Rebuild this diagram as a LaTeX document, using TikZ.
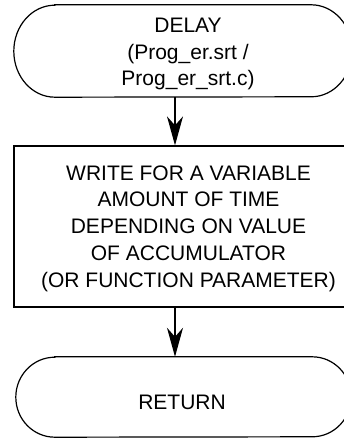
\documentclass[tikz,border=0pt]{standalone}
\usepackage{fontspec}
\setmainfont{Liberation Sans}
\usetikzlibrary{arrows.meta}
\begin{document}
\begin{tikzpicture}[x=1pt,y=1pt,
  txt/.style={align=center, inner sep=0pt, font=\fontsize{21}{26.8}\selectfont},
  shapebox/.style={draw=none, inner sep=0pt},
  outline/.style={line width=1.2pt, draw=black},
  arr/.style={line width=1.2pt, -{Stealth[length=29pt, width=16pt, inset=9pt]}}]
\useasboundingbox (0,0) rectangle (344,438);
\clip (0,0) rectangle (344,438);
% top terminal
\node[shapebox, minimum width=338pt, minimum height=92pt] (delay) at (183,387) {};
\draw[outline] ([xshift=41pt]delay.north west) -- ([xshift=-41pt]delay.north east)
  arc[start angle=90, end angle=-90, x radius=41pt, y radius=46pt]
  -- ([xshift=41pt]delay.south west)
  arc[start angle=270, end angle=90, x radius=41pt, y radius=46pt] -- cycle;
\node[txt] (delaytxt) at (188,384) {DELAY\\(Prog\_er.srt /\\Prog\_er\_srt.c)};
% process box
\node[draw, line width=1.2pt, minimum width=349pt, minimum height=161pt, inner sep=0pt] (write) at (188.5,211.5) {};
\node[txt] (writetxt) at (188.5,209.5) {WRITE FOR A VARIABLE\\AMOUNT OF TIME\\DEPENDING ON VALUE\\OF ACCUMULATOR\\(OR FUNCTION PARAMETER)};
% bottom terminal
\node[shapebox, minimum width=335pt, minimum height=80pt] (ret) at (183.5,41) {};
\draw[outline] ([xshift=39pt]ret.north west) -- ([xshift=-39pt]ret.north east)
  arc[start angle=90, end angle=-90, x radius=39pt, y radius=40pt]
  -- ([xshift=39pt]ret.south west)
  arc[start angle=270, end angle=90, x radius=39pt, y radius=40pt] -- cycle;
\node[txt] (rettxt) at (182,36) {RETURN};
% connectors
\coordinate (ax) at (175,0);
\draw[arr] (delay.south -| ax) -- (write.north -| ax);
\draw[arr] (write.south -| ax) -- (ret.north -| ax);
\end{tikzpicture}
\end{document}
